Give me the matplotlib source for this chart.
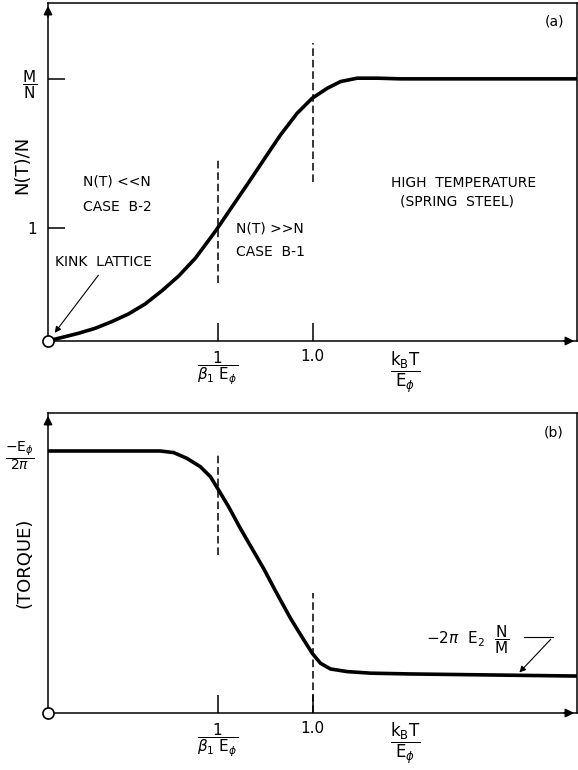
import matplotlib
matplotlib.use("Agg")
import matplotlib.pyplot as plt

# curve (a): N(T)/N vs kB T / E_phi
top_x = [0.0, 0.014, 0.064, 0.115, 0.178, 0.241, 0.304, 0.367, 0.431, 0.494,
         0.557, 0.620, 0.645, 0.696, 0.765, 0.828, 0.879, 0.942, 0.999, 1.056,
         1.106, 1.169, 1.245, 1.333, 2.0]
top_y = [0.0, 0.009, 0.038, 0.068, 0.112, 0.171, 0.239, 0.327, 0.445, 0.575,
         0.732, 0.930, 1.012, 1.188, 1.425, 1.646, 1.823, 2.015, 2.148, 2.236,
         2.295, 2.325, 2.325, 2.319, 2.319]

# curve (b): torque (normalised to -E_phi/2pi)
bot_x = [0.0, 0.348, 0.424, 0.475, 0.525, 0.576, 0.614, 0.645, 0.683, 0.727,
         0.816, 0.860, 0.917, 0.967, 0.999, 1.030, 1.068, 1.131, 1.220, 1.371, 2.0]
bot_y = [1.0, 1.0, 1.0, 0.994, 0.972, 0.940, 0.902, 0.851, 0.787, 0.705,
         0.550, 0.466, 0.361, 0.279, 0.228, 0.190, 0.168, 0.158, 0.152, 0.149, 0.141]

x_beta = 0.642      # 1 / (beta_1 E_phi)
x_one = 1.0         # 1.0
m_over_n = 2.32     # M/N level
x_label_pos = 1.35  # kB T / E_phi label

# dashed markers: (x, y_from, y_to)
top_dash = [(x_beta, 0.51, 1.63), (x_one, 1.41, 2.64)]
bot_dash = [(x_beta, 0.603, 0.991), (x_one, 0.0, 0.457)]

plt.rcParams['font.family'] = ['DejaVu Sans']
plt.rcParams['mathtext.fontset'] = 'dejavusans'

fig = plt.figure(figsize=(5.78, 7.70), dpi=100)
ax1 = fig.add_axes([48 / 578, 429 / 770, 529 / 578, 338 / 770])
ax2 = fig.add_axes([48 / 578, 57 / 770, 529 / 578, 300 / 770])


def frame(ax, ymax):
    ax.set_xlim(0, 2.0)
    ax.set_ylim(0, ymax)
    for s in ax.spines.values():
        s.set_linewidth(1.1)
    ax.annotate('', xy=(0, 1), xytext=(0, 0.95), xycoords='axes fraction',
                arrowprops=dict(arrowstyle='-|>', color='k', lw=1.1, mutation_scale=13),
                annotation_clip=False)
    ax.annotate('', xy=(1, 0), xytext=(0.97, 0), xycoords='axes fraction',
                arrowprops=dict(arrowstyle='-|>', color='k', lw=1.1, mutation_scale=13),
                annotation_clip=False)
    ax.plot([0], [0], 'o', ms=8, mfc='white', mec='k', mew=1.2, clip_on=False, zorder=10)
    ax.set_xticks([x_beta, x_one])
    ax.set_xticklabels([r'$\dfrac{1}{\beta_1\ \mathrm{E}_\phi}$', '1.0'])
    ax.tick_params(axis='x', direction='in', length=13, width=1.1, pad=6, labelsize=11)
    ax.text(x_label_pos, -0.025, r'$\dfrac{\mathrm{k}_\mathrm{B}\mathrm{T}}{\mathrm{E}_\phi}$',
            transform=ax.get_xaxis_transform(), ha='center', va='top', fontsize=12)


# ---- panel (a)
frame(ax1, 2.99)
ax1.plot(top_x, top_y, color='k', lw=2.6, solid_capstyle='butt', solid_joinstyle='round')
for x, y0, y1 in top_dash:
    ax1.plot([x, x], [y0, y1], color='k', lw=1.1, dashes=(5, 2.5))
ax1.set_yticks([1, m_over_n])
ax1.set_yticklabels(['1', r'$\dfrac{\mathrm{M}}{\mathrm{N}}$'])
ax1.tick_params(axis='y', direction='in', length=12, width=1.1, pad=8, labelsize=11)
ax1.set_ylabel('N(T)/N', fontsize=13)
ax1.yaxis.set_label_coords(-0.032, 0.52)

ax1.text(0.133, 1.407, 'N(T) <<N', fontsize=10, va='center')
ax1.text(0.133, 1.186, 'CASE  B-2', fontsize=10, va='center')
ax1.text(0.712, 0.997, 'N(T) >>N', fontsize=10, va='center')
ax1.text(0.712, 0.79, 'CASE  B-1', fontsize=10, va='center')
ax1.text(1.295, 1.398, 'HIGH  TEMPERATURE', fontsize=10, va='center')
ax1.text(1.33, 1.23, '(SPRING  STEEL)', fontsize=10, va='center')
ax1.text(0.027, 0.70, 'KINK  LATTICE', fontsize=10, va='center')
ax1.annotate('', xy=(0.019, 0.053), xytext=(0.197, 0.602),
             arrowprops=dict(arrowstyle='-|>', color='k', lw=0.8, mutation_scale=9))
ax1.text(0.975, 0.945, '(a)', transform=ax1.transAxes, ha='right', va='center', fontsize=10)

# ---- panel (b)
frame(ax2, 1.145)
ax2.plot(bot_x, bot_y, color='k', lw=2.6, solid_capstyle='butt', solid_joinstyle='round')
for x, y0, y1 in bot_dash:
    ax2.plot([x, x], [y0, y1], color='k', lw=1.1, dashes=(5, 2.5))
ax2.set_yticks([1.0])
ax2.set_yticklabels([r'$\dfrac{-\mathrm{E}_\phi}{2\pi}$'])
ax2.tick_params(axis='y', direction='in', length=0, pad=10, labelsize=10)
ax2.set_ylabel('(TORQUE)', fontsize=13)
ax2.yaxis.set_label_coords(-0.028, 0.50)

ax2.text(1.428, 0.28, r'$-2\pi\ \ \mathrm{E}_2\ \ \dfrac{\mathrm{N}}{\mathrm{M}}$', fontsize=11, va='center')
ax2.plot([1.799, 1.908], [0.289, 0.289], color='k', lw=0.8)
ax2.annotate('', xy=(1.775, 0.147), xytext=(1.908, 0.289),
             arrowprops=dict(arrowstyle='-|>', color='k', lw=0.8, mutation_scale=9))
ax2.text(0.975, 0.935, '(b)', transform=ax2.transAxes, ha='right', va='center', fontsize=10)

fig.savefig('out.png', dpi=100)
